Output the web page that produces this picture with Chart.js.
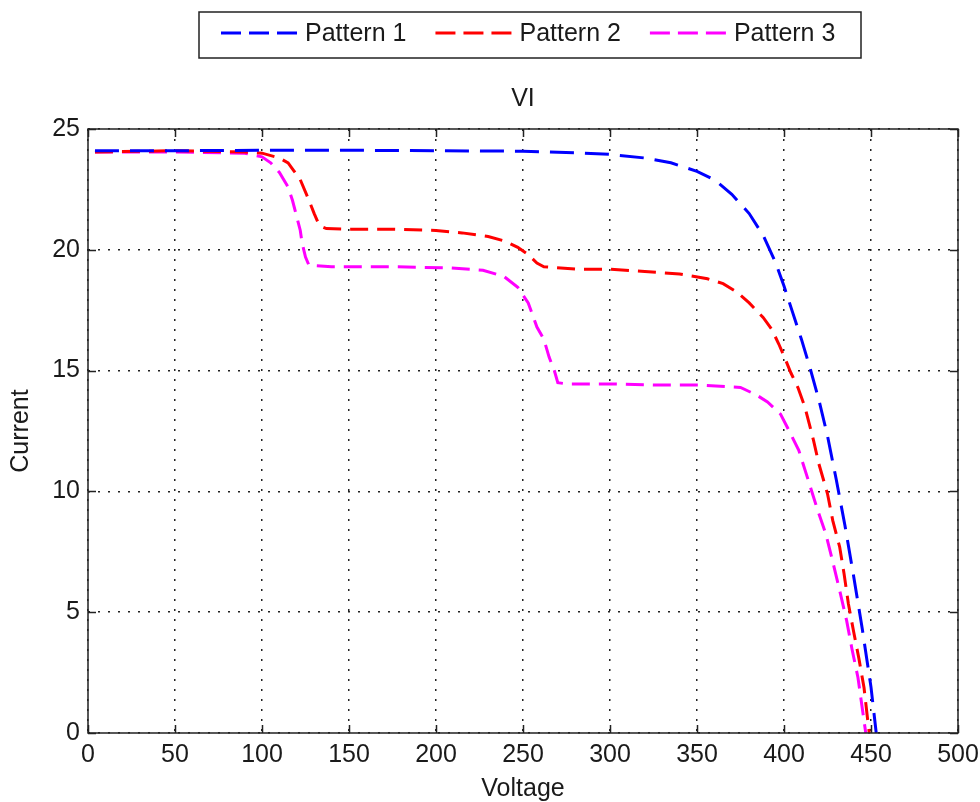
<!DOCTYPE html>
<html>
<head>
<meta charset="utf-8">
<script src="https://cdn.jsdelivr.net/npm/chart.js@4"></script>
<style>
html, body { margin: 0; padding: 0; background: #fff; }
#wrap { width: 980px; height: 802px; }
</style>
</head>
<body>
<div id="wrap"><canvas id="c" width="980" height="802"></canvas></div>
<script>
// ---------------- data ----------------
const chartTitle = 'VI';
const xAxisTitle = 'Voltage';
const yAxisTitle = 'Current';
const seriesNames = ['Pattern 1', 'Pattern 2', 'Pattern 3'];

const p1Voltage = [4, 50, 100, 150, 200, 250, 280, 300, 320, 335, 350, 360, 370, 380, 388, 395, 400, 405, 410, 415, 420, 425, 430, 435, 440, 445, 450, 453];
const p1Current = [24.1, 24.1, 24.12, 24.12, 24.1, 24.08, 24.02, 23.95, 23.8, 23.6, 23.25, 22.9, 22.3, 21.5, 20.6, 19.5, 18.5, 17.4, 16.3, 15.1, 13.8, 12.3, 10.5, 8.6, 6.5, 4.3, 1.9, 0];

const p2Voltage = [4, 50, 90, 100, 110, 115, 118, 122, 127, 130, 133, 137, 150, 175, 200, 215, 230, 240, 247, 253, 258, 262, 280, 300, 320, 340, 356, 365, 373, 380, 388, 393, 397, 400, 404, 408, 412, 417, 420, 425, 428, 432, 434.5, 437, 440, 443, 446, 448, 449];
const p2Current = [24.05, 24.1, 24.05, 24.0, 23.8, 23.6, 23.3, 22.9, 22.05, 21.5, 21.0, 20.88, 20.85, 20.85, 20.8, 20.7, 20.55, 20.35, 20.1, 19.8, 19.45, 19.3, 19.2, 19.2, 19.1, 19.0, 18.8, 18.6, 18.25, 17.8, 17.2, 16.7, 16.1, 15.6, 14.9, 14.3, 13.5, 12.1, 11.15, 9.9, 8.8, 7.7, 6.6, 5.35, 4.2, 3.1, 1.87, 0.6, 0];

const p3Voltage = [4, 50, 90, 100, 105, 110, 115, 117.5, 120, 122, 123, 125, 127, 140, 175, 208, 227, 239, 247, 253, 258, 262, 265, 268, 270, 275, 300, 330, 352, 375, 384, 390.5, 398, 403, 408.5, 414, 419, 424, 428, 432, 436, 439, 442.5, 446, 447];
const p3Current = [24.05, 24.05, 24.0, 23.85, 23.6, 23.2, 22.6, 22.05, 21.35, 20.8, 20.3, 19.7, 19.36, 19.3, 19.3, 19.25, 19.15, 18.9, 18.45, 17.8, 16.8, 16.3, 15.56, 15.0, 14.5, 14.45, 14.45, 14.4, 14.4, 14.3, 14.0, 13.7, 13.2, 12.5, 11.7, 10.45, 9.3, 8.25, 7.1, 5.9, 4.65, 3.5, 2.3, 0.5, 0];

const xTicks = [0, 50, 100, 150, 200, 250, 300, 350, 400, 450, 500];
const yTicks = [0, 5, 10, 15, 20, 25];

// ---------------- styles ----------------
const FONT = '"Liberation Sans", Arial, Helvetica, sans-serif';
const TEXT = '#1a1a1a';
const seriesColors = ['#0000ff', '#ff0000', '#ff00ff'];
const seriesDash = [[24, 11], [18, 9], [18, 9]];

const toPoints = (xs, ys) => xs.map((v, i) => ({ x: v, y: ys[i] }));
const allSeries = [
  toPoints(p1Voltage, p1Current),
  toPoints(p2Voltage, p2Current),
  toPoints(p3Voltage, p3Current)
];

const datasets = allSeries.map((pts, i) => ({
  label: seriesNames[i],
  data: pts,
  showLine: true,
  borderColor: seriesColors[i],
  backgroundColor: seriesColors[i],
  borderWidth: 3,
  borderDash: seriesDash[i],
  pointRadius: 0,
  tension: 0,
  fill: false
}));

const framePlugin = {
  id: 'frame',
  afterDraw(chart) {
    const { ctx, chartArea: a, scales: { x, y } } = chart;
    ctx.save();
    // box
    ctx.strokeStyle = '#222';
    ctx.lineWidth = 1.5;
    ctx.setLineDash([]);
    ctx.strokeRect(a.left, a.top, a.right - a.left, a.bottom - a.top);
    // inward ticks
    ctx.beginPath();
    const tl = 8;
    xTicks.forEach(v => {
      const px = Math.round(x.getPixelForValue(v)) + 0.5;
      ctx.moveTo(px, a.bottom); ctx.lineTo(px, a.bottom - tl);
      ctx.moveTo(px, a.top); ctx.lineTo(px, a.top + tl);
    });
    yTicks.forEach(v => {
      const py = Math.round(y.getPixelForValue(v)) + 0.5;
      ctx.moveTo(a.left, py); ctx.lineTo(a.left + tl, py);
      ctx.moveTo(a.right, py); ctx.lineTo(a.right - tl, py);
    });
    ctx.stroke();

    // title
    ctx.fillStyle = TEXT;
    ctx.font = '25px ' + FONT;
    ctx.textAlign = 'center';
    ctx.textBaseline = 'middle';
    ctx.fillText(chartTitle, (a.left + a.right) / 2, 99);

    // legend
    const box = { left: 199, top: 12, right: 861, bottom: 58 };
    ctx.fillStyle = '#fff';
    ctx.fillRect(box.left, box.top, box.right - box.left, box.bottom - box.top);
    ctx.strokeStyle = '#222';
    ctx.lineWidth = 1.5;
    ctx.strokeRect(box.left, box.top, box.right - box.left, box.bottom - box.top);
    const ly = 33;
    let cx = box.left + 22;
    ctx.textAlign = 'left';
    chart.data.datasets.forEach(ds => {
      ctx.save();
      ctx.strokeStyle = ds.borderColor;
      ctx.lineWidth = 3;
      ctx.setLineDash([20, 8]);
      ctx.beginPath();
      ctx.moveTo(cx, ly); ctx.lineTo(cx + 76, ly);
      ctx.stroke();
      ctx.restore();
      ctx.fillStyle = TEXT;
      ctx.fillText(ds.label, cx + 84, ly + 1);
      const w = ctx.measureText(ds.label).width;
      cx += 84 + w + 29;
    });
    ctx.restore();
  }
};

new Chart(document.getElementById('c'), {
  type: 'scatter',
  data: { datasets },
  options: {
    responsive: false,
    devicePixelRatio: 1,
    animation: false,
    layout: { padding: { top: 129, right: 22, left: 0, bottom: 0 } },
    plugins: {
      legend: { display: false },
      title: { display: false },
      tooltip: { enabled: false }
    },
    scales: {
      x: {
        type: 'linear',
        min: 0, max: 500,
        afterBuildTicks: s => { s.ticks = xTicks.map(v => ({ value: v })); },
        afterFit: s => { s.height = 69; s.paddingLeft = 0; s.paddingRight = 0; },
        grid: { color: '#222', lineWidth: 1.5, drawTicks: false },
        border: { display: false, dash: [2, 8] },
        ticks: { color: TEXT, font: { family: FONT, size: 25 }, padding: 7, maxRotation: 0, autoSkip: false },
        title: { display: true, text: xAxisTitle, color: TEXT, font: { family: FONT, size: 25, lineHeight: 1 }, padding: { top: 0, bottom: 0 } }
      },
      y: {
        type: 'linear',
        min: 0, max: 25,
        afterBuildTicks: s => { s.ticks = yTicks.map(v => ({ value: v })); },
        afterFit: s => { s.width = 88; s.paddingTop = 0; s.paddingBottom = 0; },
        grid: { color: '#222', lineWidth: 1.5, drawTicks: false },
        border: { display: false, dash: [2, 8] },
        ticks: { color: TEXT, font: { family: FONT, size: 25 }, padding: 8, autoSkip: false },
        title: { display: true, text: yAxisTitle, color: TEXT, font: { family: FONT, size: 25, lineHeight: 1 }, padding: { top: 9, bottom: 0 } }
      }
    }
  },
  plugins: [framePlugin]
});
</script>
</body>
</html>
